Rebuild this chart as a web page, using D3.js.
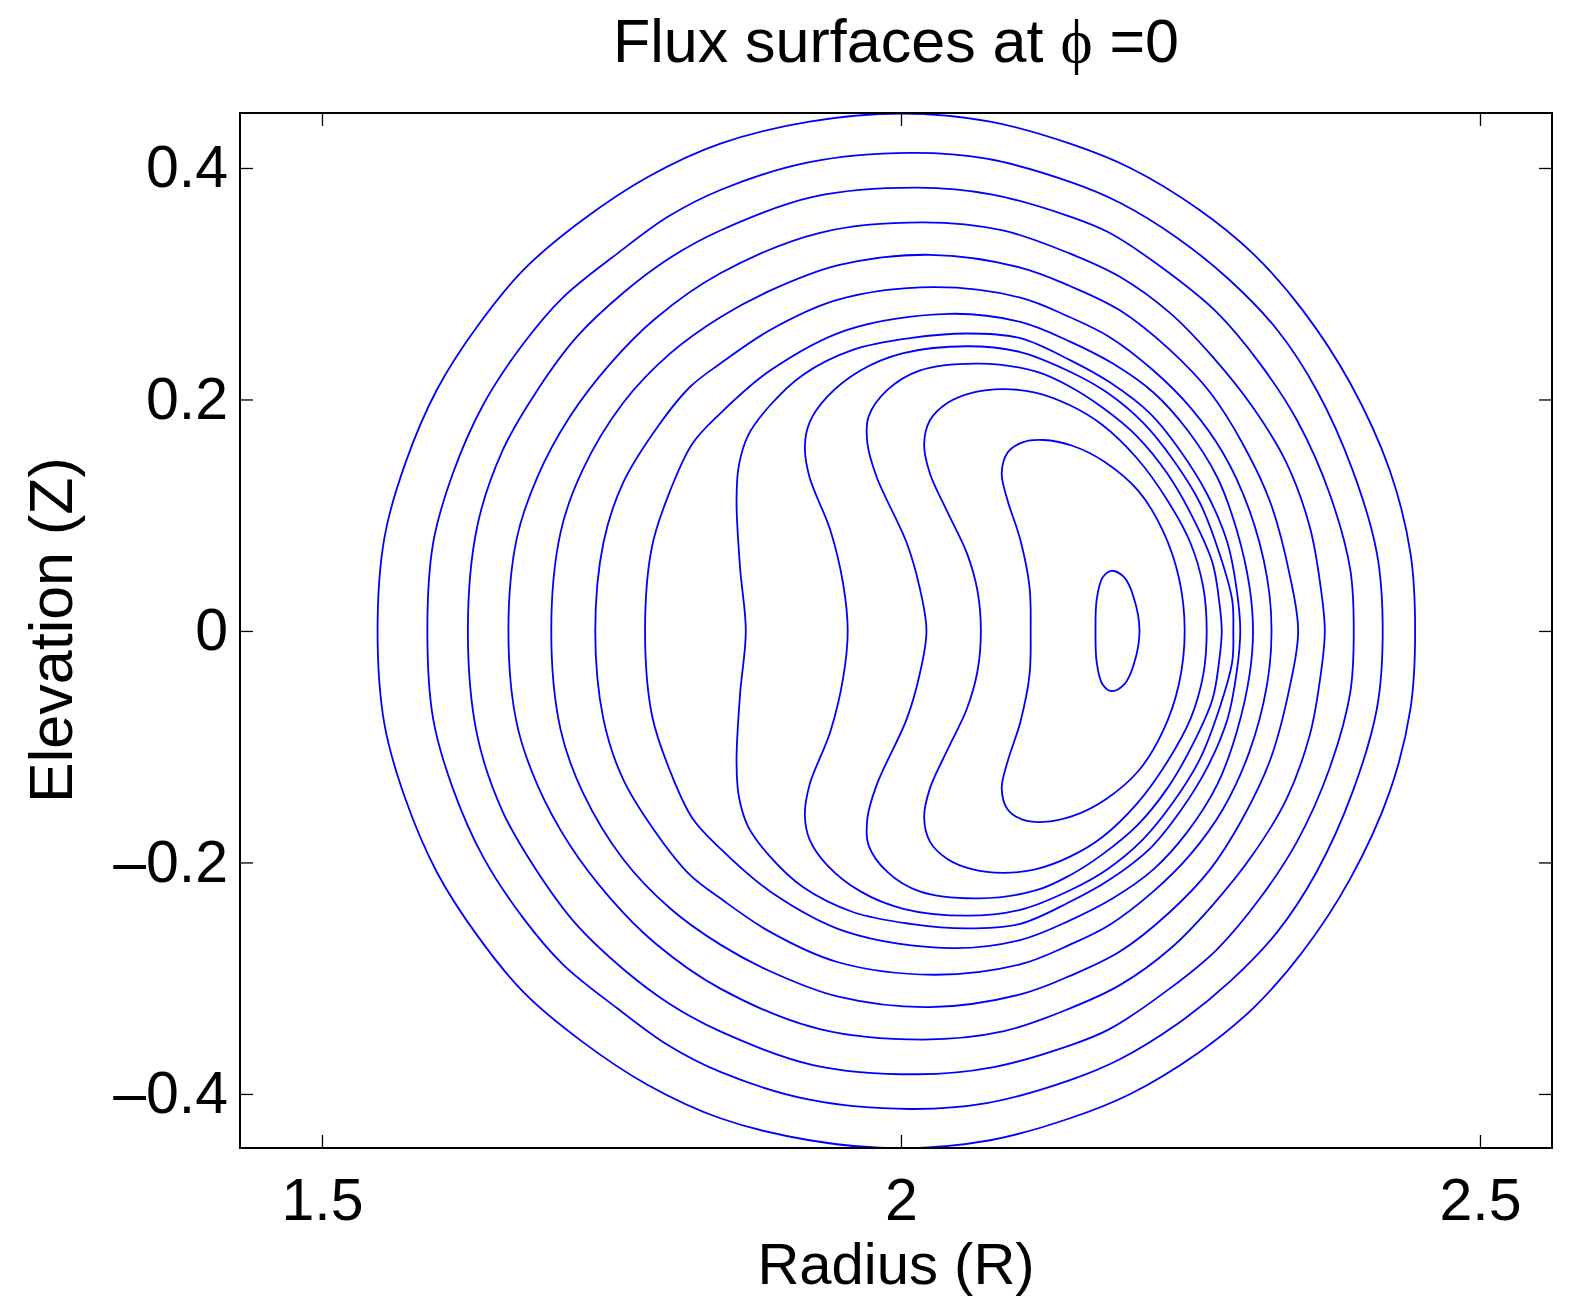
<!DOCTYPE html>
<html>
<head>
<meta charset="utf-8">
<script src="https://cdn.jsdelivr.net/npm/d3@7"></script>
<style>
  body { margin: 0; background: #fff; }
  text { font-family: "Liberation Sans", Arial, Helvetica, sans-serif; fill: #000; }
</style>
</head>
<body>
<div id="chart"></div>
<script>

var xTicks = [1.5, 2, 2.5];
var xTickLabels = ["1.5", "2", "2.5"];
var yTicks = [-0.4, -0.2, 0, 0.2, 0.4];
var yTickLabels = ["\u20130.4", "\u20130.2", "0", "0.2", "0.4"];

// upper half of each flux surface as [R, Z], from the inboard to the outboard Z=0 crossing
// (the lower half is the mirror image in Z)
var surface1 = [[1.548,0],[1.554,0.081],[1.572,0.145],[1.599,0.208],[1.634,0.263],[1.674,0.312],[1.725,0.355],
  [1.781,0.392],[1.844,0.421],[1.921,0.440],[2.001,0.447],[2.077,0.440],[2.146,0.421],[2.198,0.400],
  [2.256,0.365],[2.304,0.326],[2.347,0.277],[2.388,0.214],[2.422,0.139],[2.440,0.067],[2.444,0]];
var surface2 = [[1.591,0],[1.596,0.076],[1.613,0.136],[1.639,0.195],[1.673,0.247],[1.708,0.288],[1.755,0.326],
  [1.799,0.358],[1.844,0.381],[1.921,0.405],[2.008,0.413],[2.074,0.408],[2.146,0.388],[2.189,0.370],
  [2.238,0.340],[2.284,0.303],[2.325,0.260],[2.359,0.208],[2.390,0.139],[2.411,0.067],[2.416,0]];
var surface3 = [[1.626,0],[1.634,0.090],[1.656,0.156],[1.686,0.208],[1.720,0.254],[1.760,0.292],[1.800,0.322],
  [1.844,0.346],[1.924,0.375],[2.014,0.383],[2.079,0.377],[2.146,0.358],[2.180,0.344],[2.232,0.309],
  [2.273,0.275],[2.310,0.231],[2.342,0.182],[2.370,0.119],[2.388,0.053],[2.391,0]];
var surface4 = [[1.661,0],[1.668,0.079],[1.686,0.133],[1.714,0.185],[1.749,0.231],[1.788,0.270],[1.844,0.309],
  [1.930,0.344],[2.019,0.353],[2.088,0.346],[2.146,0.326],[2.189,0.306],[2.232,0.275],[2.269,0.237],
  [2.304,0.193],[2.333,0.145],[2.353,0.090],[2.362,0.041],[2.366,0]];
var surface5 = [[1.698,0],[1.706,0.085],[1.725,0.139],[1.760,0.197],[1.801,0.240],[1.844,0.271],[1.887,0.294],
  [1.946,0.316],[2.025,0.325],[2.103,0.314],[2.146,0.298],[2.189,0.277],[2.232,0.243],[2.267,0.206],
  [2.295,0.162],[2.319,0.111],[2.336,0.047],[2.343,0]];
var surface6 = [[1.736,0],[1.743,0.076],[1.760,0.128],[1.791,0.178],[1.818,0.211],[1.844,0.231],[1.887,0.260],
  [1.945,0.286],[2.028,0.297],[2.103,0.288],[2.146,0.271],[2.180,0.254],[2.218,0.225],[2.250,0.193],
  [2.278,0.154],[2.301,0.104],[2.316,0.047],[2.320,0]];
var surface7 = [[1.779,0],[1.785,0.073],[1.801,0.122],[1.820,0.162],[1.844,0.188],[1.887,0.225],[1.953,0.260],
  [2.042,0.274],[2.103,0.267],[2.146,0.250],[2.183,0.231],[2.218,0.206],[2.247,0.174],[2.273,0.133],
  [2.290,0.087],[2.301,0.038],[2.304,0]];
var surface8 = [[1.866,0],[1.861,0.055],[1.858,0.113],[1.860,0.143],[1.868,0.169],[1.887,0.195],[1.915,0.221],
  [1.959,0.243],[2.008,0.253],[2.057,0.257],[2.103,0.253],[2.146,0.234],[2.180,0.215],[2.215,0.188],
  [2.241,0.156],[2.264,0.119],[2.282,0.076],[2.290,0.035],[2.293,0]];
var surface9 = [[1.954,0],[1.950,0.041],[1.939,0.087],[1.921,0.133],[1.917,0.159],[1.921,0.180],[1.936,0.202],
  [1.965,0.225],[2.002,0.240],[2.057,0.246],[2.103,0.241],[2.146,0.224],[2.178,0.206],[2.209,0.180],
  [2.235,0.148],[2.258,0.111],[2.275,0.067],[2.286,0.027],[2.287,0]];
var surface10 = [[2.022,0],[2.016,0.038],[2.005,0.076],[1.979,0.133],[1.971,0.162],[1.972,0.185],[1.988,0.208],
  [2.016,0.225],[2.068,0.231],[2.117,0.224],[2.146,0.211],[2.174,0.193],[2.204,0.168],[2.230,0.136],
  [2.252,0.098],[2.269,0.059],[2.275,0.024],[2.277,0]];
var surface11 = [[2.069,0],[2.066,0.035],[2.057,0.067],[2.040,0.103],[2.025,0.136],[2.020,0.161],[2.025,0.182],
  [2.040,0.197],[2.062,0.206],[2.088,0.209],[2.116,0.206],[2.146,0.195],[2.174,0.178],[2.204,0.149],
  [2.230,0.113],[2.250,0.076],[2.261,0.038],[2.264,0]];
var surface12 = [[2.112,0],[2.111,0.038],[2.103,0.079],[2.092,0.113],[2.087,0.136],[2.092,0.154],[2.105,0.163],
  [2.123,0.165],[2.148,0.160],[2.176,0.146],[2.205,0.121],[2.226,0.087],[2.240,0.046],[2.245,0]];
var island = [[2.168,0],[2.169,0.027],[2.174,0.046],[2.182,0.052],[2.193,0.046],[2.201,0.029],[2.206,0]];

var surfaces = [surface1, surface2, surface3, surface4, surface5, surface6, surface7,
                surface8, surface9, surface10, surface11, surface12, island];

// set the dimensions and margins of the graph
var margin = {top: 113, right: 19, bottom: 148, left: 240},
    width  = 1571 - margin.left - margin.right,
    height = 1296 - margin.top - margin.bottom;

var x = d3.scaleLinear().domain([1.4292, 2.5622]).range([0, width]);
var y = d3.scaleLinear().domain([-0.4467, 0.4475]).range([height, 0]);

var root = d3.select("#chart").append("svg")
    .attr("width", 1571)
    .attr("height", 1296);

root.append("rect").attr("width", 1571).attr("height", 1296).attr("fill", "#fff");

var svg = root.append("g")
    .attr("transform", "translate(" + margin.left + "," + margin.top + ")");

svg.append("clipPath").attr("id", "plotclip")
  .append("rect").attr("width", width).attr("height", height);

// closed loop: upper half plus its mirror
function loop(half) {
  var lower = half.slice(1, -1).reverse().map(function(p) { return [p[0], -p[1]]; });
  return half.concat(lower);
}

var line = d3.line()
    .x(function(d) { return x(d[0]); })
    .y(function(d) { return y(d[1]); })
    .curve(d3.curveCatmullRomClosed.alpha(0.5));

svg.append("g")
    .attr("clip-path", "url(#plotclip)")
  .selectAll("path")
    .data(surfaces)
  .enter().append("path")
    .attr("d", function(d) { return line(loop(d)); })
    .attr("fill", "none")
    .attr("stroke", "#0000ff")
    .attr("stroke-width", 1.8);

// axes, ticks pointing inwards on all four sides
var gx = svg.append("g")
    .attr("transform", "translate(0," + height + ")")
    .call(d3.axisBottom(x).tickValues(xTicks)
      .tickFormat(function(d, i) { return xTickLabels[i]; })
      .tickSize(-13).tickPadding(30));

var gxt = svg.append("g")
    .call(d3.axisTop(x).tickValues(xTicks).tickFormat("").tickSize(-13));

var gy = svg.append("g")
    .call(d3.axisLeft(y).tickValues(yTicks)
      .tickFormat(function(d, i) { return yTickLabels[i]; })
      .tickSize(-13).tickPadding(12));

var gyr = svg.append("g")
    .attr("transform", "translate(" + width + ",0)")
    .call(d3.axisRight(y).tickValues(yTicks).tickFormat("").tickSize(-13));

[gx, gxt, gy, gyr].forEach(function(g) {
  g.select(".domain").remove();
  g.selectAll(".tick line").attr("stroke", "#000").attr("stroke-width", 1.3);
  g.selectAll(".tick text")
    .style("font-family", "'Liberation Sans', Arial, sans-serif")
    .style("font-size", "59px")
    .attr("fill", "#000");
});

svg.append("rect")
    .attr("width", width)
    .attr("height", height)
    .attr("fill", "none")
    .attr("stroke", "#000")
    .attr("stroke-width", 2);

// title and axis labels
var title = root.append("text")
    .attr("x", 896).attr("y", 62)
    .attr("text-anchor", "middle")
    .style("font-size", "61px");
title.append("tspan").text("Flux surfaces at ");
title.append("tspan").style("font-family", "'Liberation Serif', 'DejaVu Serif', serif").text("\u03d5");
title.append("tspan").text(" =0");

root.append("text")
    .attr("x", 896).attr("y", 1284)
    .attr("text-anchor", "middle")
    .style("font-size", "58px")
    .text("Radius (R)");

root.append("text")
    .attr("transform", "translate(72,630) rotate(-90)")
    .attr("text-anchor", "middle")
    .style("font-size", "61px")
    .text("Elevation (Z)");

</script>
</body>
</html>
